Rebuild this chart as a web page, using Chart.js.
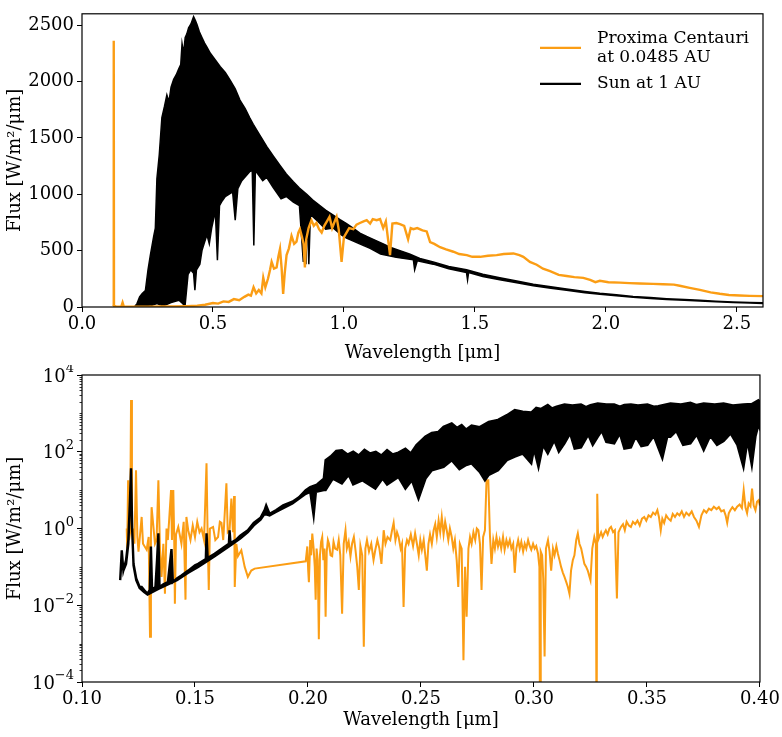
<!DOCTYPE html>
<html lang="en">
<head>
<meta charset="UTF-8">
<title>Proxima Centauri vs Sun</title>
<script src="https://cdn.jsdelivr.net/npm/chart.js@4.4.1/dist/chart.umd.min.js"></script>
<style>
  *{margin:0;padding:0;box-sizing:border-box}
  body{background:#fff;width:782px;height:737px;position:relative;overflow:hidden}
  canvas{position:absolute;left:0}
  #topChart{top:0}
  #botChart{top:365px}
</style>
</head>
<body>
<canvas id="topChart" width="782" height="365"></canvas>
<canvas id="botChart" width="782" height="372"></canvas>
<script>
/****************  DATA  ****************/
// --- top panel: full range, linear flux ---
const proxWlTop=[0.118,0.1205,0.1212,0.1222,0.130,0.150,0.155,0.160,0.200,0.250,
  0.300,0.350,0.400,0.440,0.470,0.500,0.520,0.540,0.560,0.580,
  0.600,0.620,0.635,0.645,0.655,0.665,0.675,0.685,0.692,0.700,
  0.710,0.718,0.724,0.733,0.743,0.750,0.756,0.762,0.768,0.774,
  0.781,0.790,0.800,0.810,0.819,0.826,0.832,0.840,0.846,0.851,
  0.856,0.865,0.876,0.885,0.895,0.905,0.915,0.925,0.935,0.945,
  0.955,0.965,0.972,0.980,0.991,1.000,1.010,1.020,1.036,1.048,
  1.061,1.075,1.087,1.100,1.110,1.125,1.138,1.150,1.160,1.176,
  1.185,1.200,1.214,1.230,1.245,1.255,1.265,1.280,1.300,1.316,
  1.329,1.345,1.367,1.390,1.418,1.440,1.469,1.490,1.520,1.550,
  1.583,1.610,1.647,1.670,1.685,1.710,1.736,1.760,1.787,1.820,
  1.850,1.880,1.914,1.940,1.960,1.977,2.010,2.054,2.090,2.130,
  2.180,2.219,2.260,2.282,2.320,2.359,2.400,2.435,2.470,2.511,
  2.550,2.600];
const proxFluxTop=[5,10,2360,10,5,3,40,2,2,3,
  4,5,8,12,20,35,30,50,45,70,
  60,90,110,100,175,120,150,120,260,175,
  250,330,400,340,350,450,515,350,117,300,
  460,520,630,560,580,660,690,620,560,350,
  600,700,770,720,745,690,660,720,760,800,
  700,760,800,690,400,620,660,700,690,730,
  745,760,770,740,780,770,780,700,760,460,
  740,745,735,720,600,700,690,700,680,670,
  575,560,530,510,490,470,460,445,445,455,
  460,470,475,460,445,400,375,340,318,285,
  275,265,258,240,220,232,220,216,212,208,
  205,202,198,188,170,152,130,117,106,102,
  99,96];

// Sun: upper and lower envelope of the dense spectrum
const sunHiWlTop=[0.200,0.210,0.220,0.230,0.242,0.252,0.261,0.274,0.280,0.286,
  0.295,0.305,0.315,0.324,0.332,0.340,0.350,0.360,0.369,0.377,
  0.382,0.388,0.394,0.400,0.407,0.416,0.426,0.433,0.439,0.448,
  0.458,0.468,0.477,0.490,0.509,0.528,0.547,0.566,0.585,0.603,
  0.623,0.640,0.654,0.680,0.705,0.730,0.756,0.780,0.807,0.830,
  0.858,0.880,0.908,0.930,0.959,0.985,1.010,1.035,1.061,1.087,
  1.112,1.150,1.176,1.214,1.250,1.290,1.341,1.400,1.468,1.530,
  1.595,1.660,1.723,1.790,1.850,1.920,1.977,2.040,2.104,2.170,
  2.232,2.300,2.359,2.420,2.486,2.550,2.600];
const sunHiTop=[0,30,90,120,145,330,460,630,700,1140,
  1350,1680,1780,1880,1820,1950,2020,2060,2110,2150,
  2335,2250,2390,2420,2475,2510,2575,2540,2505,2440,
  2390,2340,2305,2250,2190,2130,2080,2010,1935,1835,
  1760,1680,1620,1520,1425,1340,1255,1180,1110,1055,
  1000,950,900,860,815,775,740,700,655,625,
  600,560,530,500,470,430,400,360,330,290,
  259,230,202,180,160,138,122,108,94,84,
  74,66,60,52,45,40,37];
const sunLoWlTop=[0.200,0.230,0.262,0.286,0.310,0.340,0.370,0.385,0.393,0.398,
  0.405,0.415,0.426,0.431,0.437,0.450,0.458,0.466,0.477,0.486,
  0.495,0.509,0.517,0.525,0.535,0.547,0.562,0.575,0.585,0.595,
  0.610,0.625,0.640,0.650,0.656,0.662,0.690,0.705,0.730,0.760,
  0.780,0.807,0.830,0.845,0.850,0.855,0.860,0.866,0.872,0.900,
  0.930,0.960,0.990,1.010,1.060,1.100,1.140,1.200,1.265,1.270,
  1.280,1.341,1.400,1.468,1.472,1.476,1.530,1.595,1.660,1.723,
  1.790,1.850,1.920,1.977,2.040,2.104,2.170,2.232,2.300,2.359,
  2.420,2.486,2.550,2.600];
const sunLoTop=[0,0,10,30,10,40,60,30,0,120,
  290,330,300,150,330,380,500,560,640,560,
  700,850,415,900,940,980,1000,1020,770,1050,
  1120,1160,1200,1210,545,1210,1120,1150,1060,960,
  980,930,900,400,860,380,840,380,820,760,
  690,700,640,610,560,520,470,440,420,330,
  410,380,340,305,240,305,270,242,215,188,
  167,148,127,112,99,86,76,67,59,54,
  47,40,35,32];

// --- bottom panel: UV zoom, log flux ---
const proxWlUv=[0.1198,0.1200,0.1204,0.1208,0.1213,0.1217,0.1221,0.1228,0.1232,0.1239,
  0.1245,0.1250,0.1264,0.1270,0.1286,0.1295,0.1301,0.1305,0.1308,0.1323,
  0.1330,0.1338,0.1345,0.1352,0.1360,0.1367,0.1374,0.1380,0.1394,0.1398,
  0.1404,0.1408,0.1411,0.1416,0.1426,0.1440,0.1450,0.1458,0.1462,0.1470,
  0.1480,0.1490,0.1500,0.1510,0.1520,0.1529,0.1540,0.1551,0.1556,0.1561,
  0.1566,0.1580,0.1590,0.1602,0.1610,0.1617,0.1625,0.1639,0.1645,0.1653,
  0.1661,0.1668,0.1673,0.1676,0.1683,0.1690,0.1705,0.1720,0.1734,0.1749,0.1764,
  0.1990,0.1997,0.2001,0.2004,0.2010,0.2014,0.2019,0.2025,0.2030,0.2034,
  0.2038,0.2043,0.2048,0.2053,0.2058,0.2063,0.2068,0.2073,0.2078,0.2083,
  0.2088,0.2093,0.2100,0.2107,0.2113,0.2120,0.2129,0.2136,0.2143,0.2151,
  0.2158,0.2166,0.2172,0.2180,0.2188,0.2195,0.2203,0.2210,0.2218,0.2225,
  0.2232,0.2240,0.2247,0.2254,0.2261,0.2270,0.2280,0.2290,0.2298,0.2307,
  0.2316,0.2325,0.2335,0.2343,0.2352,0.2364,0.2372,0.2379,0.2387,0.2394,
  0.2401,0.2410,0.2416,0.2423,0.2430,0.2438,0.2445,0.2455,0.2465,0.2474,
  0.2482,0.2490,0.2497,0.2504,0.2512,0.2519,0.2526,0.2533,0.2540,0.2548,
  0.2556,0.2563,0.2570,0.2578,0.2585,0.2592,0.2600,0.2607,0.2614,0.2621,
  0.2628,0.2636,0.2643,0.2650,0.2658,0.2665,0.2672,0.2680,0.2688,0.2695,
  0.2702,0.2710,0.2717,0.2724,0.2732,0.2740,0.2747,0.2754,0.2761,0.2768,
  0.2775,0.2783,0.2790,0.2798,0.2805,0.2812,0.2820,0.2827,0.2834,0.2841,
  0.2848,0.2855,0.2863,0.2870,0.2878,0.2885,0.2893,0.2900,0.2908,0.2915,
  0.2922,0.2930,0.2937,0.2944,0.2952,0.2959,0.2966,0.2974,0.2981,0.2988,
  0.2996,0.3003,0.3010,0.3018,0.3024,0.3027,0.3030,0.3036,0.3041,0.3047,
  0.3053,0.3062,0.3069,0.3076,0.3084,0.3091,0.3099,0.3106,0.3113,0.3120,
  0.3128,0.3135,0.3143,0.3150,0.3157,0.3164,0.3172,0.3179,0.3187,0.3194,
  0.3201,0.3209,0.3216,0.3223,0.3231,0.3238,0.3244,0.3250,0.3258,0.3267,
  0.3274,0.3277,0.3280,0.3284,0.3289,0.3297,0.3304,0.3311,0.3318,0.3326,
  0.3334,0.3341,0.3350,0.3358,0.3367,0.3374,0.3385,0.3394,0.3402,0.3410,
  0.3420,0.3429,0.3438,0.3448,0.3458,0.3468,0.3478,0.3488,0.3497,0.3507,
  0.3517,0.3527,0.3537,0.3546,0.3553,0.3561,0.3568,0.3576,0.3585,0.3595,
  0.3605,0.3614,0.3624,0.3634,0.3644,0.3654,0.3664,0.3674,0.3686,0.3698,
  0.3708,0.3719,0.3730,0.3741,0.3752,0.3763,0.3774,0.3785,0.3796,0.3808,
  0.3818,0.3829,0.3840,0.3848,0.3855,0.3862,0.3869,0.3878,0.3889,0.3899,
  0.3910,0.3920,0.3928,0.3936,0.3943,0.3950,0.3958,0.3965,0.3972,0.3980,
  0.3987,0.3994,0.4000];
const proxFluxUv=[1.0,0.3,18,0.5,0.8,2240,1.0,0.9,0.4,33,
  0.6,0.25,2.0,0.4,0.28,0.6,0.0015,0.6,3.6,0.4,
  0.5,18,0.3,0.055,0.4,0.02,1.0,0.5,10,0.5,
  10,0.6,0.011,0.7,1.1,0.4,1.5,0.014,2.0,0.9,
  0.5,1.2,0.6,1.5,0.8,1.0,0.5,50,0.6,0.025,
  1.0,1.1,0.5,0.6,1.5,1.4,0.5,15,0.8,0.9,
  6.0,0.8,7,0.03,0.4,0.19,0.27,0.1,0.055,0.08,0.09,
  0.14,0.34,0.08,0.04,0.5,0.2,0.74,0.3,0.1,0.014,
  0.3,0.15,0.0013,0.2,0.45,0.6,0.15,0.3,0.005,0.25,
  0.5,0.4,0.2,0.19,0.45,0.3,0.28,0.5,0.2,0.006,
  0.4,0.9,0.3,0.45,0.19,0.4,0.6,0.28,0.1,0.025,
  0.35,0.2,0.00083,0.3,0.5,0.25,0.4,0.15,0.28,0.5,
  0.3,0.12,0.9,0.4,0.6,0.5,0.9,1.4,0.5,0.8,
  0.6,0.3,0.4,0.009,0.3,0.5,0.4,0.7,0.35,0.75,
  0.4,0.2,0.5,0.28,0.5,0.2,0.08,0.4,0.7,0.4,
  0.9,1.3,0.6,1.6,0.8,2.0,0.7,1.5,0.9,0.5,
  1.0,0.6,0.3,0.5,0.15,0.03,0.4,0.3,0.00037,0.1,
  0.005,0.3,0.6,0.4,0.8,0.5,1.0,0.9,0.4,0.025,
  0.6,0.9,18,18,0.7,0.12,0.5,0.3,0.6,0.34,
  0.5,0.3,0.6,0.28,0.5,0.35,0.5,0.3,0.4,0.07,
  0.3,0.5,0.3,0.45,0.25,0.4,0.3,0.5,0.35,0.28,
  0.4,0.3,0.35,0.22,0.1,1e-6,0.25,0.2,0.05,0.00046,
  0.3,0.5,0.25,0.08,0.3,0.2,0.35,0.22,0.15,0.1,
  0.07,0.055,0.04,0.03,0.02,0.08,0.15,0.2,0.5,0.74,
  0.4,0.3,0.19,0.12,0.1,0.08,0.06,0.045,0.3,0.6,
  0.4,1e-6,8,0.5,0.6,0.8,0.6,0.75,0.9,0.7,
  1.0,1.1,0.8,0.9,0.015,0.8,1.1,1.3,0.9,1.5,
  1.2,1.1,1.5,1.3,1.6,1.2,1.8,2.0,1.6,2.2,
  2.0,2.6,2.3,3.0,2.0,0.9,1.8,1.4,2.2,1.8,
  1.6,2.4,2.0,2.5,2.2,2.8,2.0,2.6,2.2,2.8,
  2.0,1.6,1.1,2.2,3.0,2.6,3.3,3.0,3.7,3.2,
  3.6,2.8,3.0,2.2,1.4,2.5,3.0,3.6,3.0,3.7,
  4.2,3.4,10,3.5,2.5,4.5,3.8,11,4.0,3.0,
  5.0,5.5,4.0];

const sunHiWlUv=[0.1169,0.1176,0.1183,0.1195,0.1205,0.1212,0.1217,0.1222,0.1228,0.1240,
  0.1255,0.1264,0.1275,0.1290,0.1300,0.1305,0.1310,0.1325,0.1332,0.1338,
  0.1343,0.1360,0.1380,0.1396,0.1402,0.1420,0.1440,0.1470,0.1500,0.1514,
  0.1548,0.1551,0.1556,0.1587,0.1620,0.1650,0.1653,0.1657,0.1680,0.1700,
  0.1734,0.1760,0.1790,0.1808,0.1815,0.1830,0.1858,0.1890,0.1931,0.1960,
  0.1990,0.2010,0.2040,0.2070,0.2078,0.2100,0.2125,0.2150,0.2175,0.2200,
  0.2225,0.2250,0.2275,0.2300,0.2325,0.2350,0.2375,0.2400,0.2431,0.2455,
  0.2480,0.2520,0.2548,0.2577,0.2600,0.2636,0.2660,0.2680,0.2700,0.2724,
  0.2760,0.2800,0.2841,0.2880,0.2915,0.2950,0.2988,0.3010,0.3030,0.3061,
  0.3080,0.3100,0.3135,0.3170,0.3208,0.3230,0.3250,0.3282,0.3320,0.3355,
  0.3380,0.3400,0.3429,0.3460,0.3502,0.3530,0.3550,0.3604,0.3650,0.3692,
  0.3720,0.3751,0.3800,0.3839,0.3880,0.3927,0.3964,0.3993,0.4000];
const sunHiUv=[0.045,0.27,0.08,0.15,0.5,5,37,1.0,0.12,0.05,
  0.03,0.03,0.025,0.02,0.025,0.34,0.025,0.03,0.15,0.75,
  0.03,0.035,0.04,0.29,0.04,0.05,0.06,0.08,0.11,0.12,
  0.16,0.75,0.17,0.22,0.3,0.4,0.9,0.42,0.5,0.65,
  0.9,1.4,1.9,3.0,4,2.4,3.0,4.0,5.0,6.5,
  10,12,14,20,60,75,105,110,85,100,
  80,112,90,100,80,110,85,95,120,90,
  150,250,310,330,450,550,420,500,380,480,
  440,600,680,900,1230,1100,1050,1400,1300,1650,
  1350,1500,1700,1600,1700,1450,1650,1800,1700,1700,
  1500,1650,1700,1600,1700,1500,1550,1800,1700,1900,
  1650,1800,1700,1800,1600,1700,1750,2200,2000];
const sunLoWlUv=[0.1169,0.1176,0.1183,0.1195,0.1205,0.1212,0.1217,0.1222,0.1228,0.1240,
  0.1255,0.1275,0.1290,0.1310,0.1340,0.1380,0.1420,0.1470,0.1514,0.1587,
  0.1650,0.1700,0.1734,0.1760,0.1790,0.1808,0.1830,0.1858,0.1931,0.1990,
  0.2010,0.2025,0.2035,0.2070,0.2078,0.2110,0.2150,0.2180,0.2200,0.2240,
  0.2298,0.2330,0.2350,0.2400,0.2431,0.2460,0.2489,0.2520,0.2548,0.2600,
  0.2636,0.2670,0.2700,0.2724,0.2760,0.2783,0.2800,0.2841,0.2880,0.2915,
  0.2950,0.2988,0.3000,0.3020,0.3040,0.3061,0.3090,0.3110,0.3135,0.3160,
  0.3180,0.3208,0.3240,0.3260,0.3282,0.3300,0.3320,0.3355,0.3380,0.3400,
  0.3429,0.3450,0.3475,0.3502,0.3530,0.3568,0.3590,0.3604,0.3630,0.3660,
  0.3692,0.3720,0.3751,0.3780,0.3810,0.3839,0.3870,0.3900,0.3927,0.3945,
  0.3964,0.3980,0.3993,0.4000];
const sunLoUv=[0.045,0.2,0.08,0.12,0.4,4,30,0.9,0.11,0.045,
  0.028,0.022,0.019,0.022,0.027,0.035,0.045,0.07,0.1,0.19,
  0.34,0.55,0.8,1.2,1.7,2.4,2.2,2.7,4.5,8,
  9,2.2,9,10,10,20,15,25,14,18,
  11,20,14,22,11,18,6,20,33,40,
  60,35,45,50,30,18,25,33,60,75,
  90,50,120,40,150,90,200,100,165,300,
  120,130,280,150,245,350,180,165,300,120,
  130,250,140,150,260,68,250,245,350,150,
  165,280,110,260,150,190,300,150,40,200,
  45,250,500,400];

// tick values
const topXTicks=[0,0.5,1.0,1.5,2.0,2.5];
const topYTicks=[0,500,1000,1500,2000,2500];
const botXTicks=[0.10,0.15,0.20,0.25,0.30,0.35,0.40];
const botYTicks=[1e-4,1e-2,1,1e2,1e4];

const legendLabels=[['Proxima Centauri','at 0.0485 AU'],['Sun at 1 AU']];

/****************  STYLE  ****************/
const ORANGE='#fb9d14';
const FONT='DejaVu Serif';
const tickFont={family:FONT,size:18};
const titleFont={family:FONT,size:18};

function pts(xs,ys){return xs.map((x,i)=>({x:x,y:ys[i]}));}
// closed outline: upper envelope left->right, lower envelope right->left
function band(hx,hy,lx,ly){return pts(hx,hy).concat(pts(lx,ly).reverse());}

const lineBase={pointRadius:0,tension:0,clip:0};

/****************  PLUGINS  ****************/
// full box round the plot area (matplotlib spines)
const framePlugin={
  id:'frame',
  afterDatasetsDraw(chart){
    const {ctx,chartArea:a}=chart;
    ctx.save();
    ctx.strokeStyle='#000';ctx.lineWidth=1.2;
    ctx.strokeRect(a.left,a.top,a.right-a.left,a.bottom-a.top);
    ctx.restore();
  }
};

// two-line legend in the top panel
const legendPlugin={
  id:'twoLineLegend',
  afterDraw(chart){
    const {ctx,chartArea:a}=chart;
    const x0=a.right-223,x1=a.right-182,tx=a.right-166;
    const rows=[{color:ORANGE,lineY:a.top+34,textY:[a.top+25,a.top+44]},
                {color:'#000',lineY:a.top+70,textY:[a.top+70]}];
    ctx.save();
    ctx.font='17px "'+FONT+'"';ctx.fillStyle='#000';
    ctx.textAlign='left';ctx.textBaseline='middle';
    rows.forEach((r,i)=>{
      ctx.strokeStyle=r.color;ctx.lineWidth=2.2;
      ctx.beginPath();ctx.moveTo(x0,r.lineY);ctx.lineTo(x1,r.lineY);ctx.stroke();
      legendLabels[i].forEach((t,j)=>ctx.fillText(t,tx,r.textY[j]));
    });
    ctx.restore();
  }
};

// log axis: superscript labels + minor ticks
const logAxisPlugin={
  id:'logAxis',
  afterDraw(chart){
    const {ctx}=chart;const s=chart.scales.y;
    ctx.save();
    ctx.strokeStyle='#000';ctx.lineWidth=0.8;
    const minor=(v)=>{
      const y=Math.round(s.getPixelForValue(v))+0.5;
      ctx.beginPath();ctx.moveTo(s.right-2.5,y);ctx.lineTo(s.right,y);ctx.stroke();
    };
    for(let e=-4;e<4;e++){
      for(let m=2;m<=9;m++) minor(m*Math.pow(10,e));
      if(e%2!==0) minor(Math.pow(10,e));
    }
    ctx.fillStyle='#000';ctx.textBaseline='middle';ctx.textAlign='left';
    botYTicks.forEach(v=>{
      const e=Math.round(Math.log10(v));
      const ex=e<0?'\u2212'+(-e):String(e);
      const y=s.getPixelForValue(v);
      ctx.font='18px "'+FONT+'"';const bw=ctx.measureText('10').width;
      ctx.font='13px "'+FONT+'"';const ew=ctx.measureText(ex).width;
      const xr=s.right-8;
      ctx.font='18px "'+FONT+'"';ctx.fillText('10',xr-ew-bw,y+2);
      ctx.font='13px "'+FONT+'"';ctx.fillText(ex,xr-ew,y-6);
    });
    ctx.restore();
  }
};

function axisGrid(){return {drawOnChartArea:false,drawTicks:true,tickLength:5,color:'#000',tickColor:'#000',lineWidth:1};}

/****************  TOP PANEL  ****************/
new Chart(document.getElementById('topChart'),{
  type:'line',
  data:{datasets:[
    {...lineBase,label:'Proxima Centauri',data:pts(proxWlTop,proxFluxTop),borderColor:ORANGE,borderWidth:2.4,fill:false},
    {...lineBase,label:'Sun at 1 AU',data:band(sunHiWlTop,sunHiTop,sunLoWlTop,sunLoTop),
      borderColor:'#000',backgroundColor:'#000',borderWidth:1.5,fill:'shape'}
  ]},
  options:{
    responsive:false,animation:false,events:[],devicePixelRatio:1,
    layout:{padding:{top:2,right:19,left:0,bottom:0}},
    plugins:{legend:{display:false},tooltip:{enabled:false}},
    scales:{
      x:{type:'linear',min:0,max:2.6,
        afterBuildTicks:s=>{s.ticks=topXTicks.map(v=>({value:v}));},
        afterFit:s=>{s.height=58;},
        ticks:{font:tickFont,color:'#000',padding:2,maxRotation:0,callback:v=>v.toFixed(1)},
        grid:axisGrid(),border:{display:false},
        title:{display:true,text:'Wavelength [\u03bcm]',font:titleFont,color:'#000',padding:{top:0,bottom:1}}},
      y:{type:'linear',min:0,max:2600,
        afterBuildTicks:s=>{s.ticks=topYTicks.map(v=>({value:v}));},
        afterFit:s=>{s.width=82;},
        ticks:{font:tickFont,color:'#000',padding:3,callback:v=>String(v)},
        grid:axisGrid(),border:{display:false},
        title:{display:true,text:'Flux [W/m\u00b2/\u03bcm]',font:titleFont,color:'#000',padding:{top:5,bottom:0}}}
    }
  },
  plugins:[framePlugin,legendPlugin]
});

/****************  BOTTOM PANEL  ****************/
new Chart(document.getElementById('botChart'),{
  type:'line',
  data:{datasets:[
    {...lineBase,label:'Sun at 1 AU',data:band(sunHiWlUv,sunHiUv,sunLoWlUv,sunLoUv),
      borderColor:'#000',backgroundColor:'#000',borderWidth:2.4,fill:'shape'},
    {...lineBase,label:'Proxima Centauri',data:pts(proxWlUv,proxFluxUv),borderColor:ORANGE,borderWidth:2,fill:false}
  ]},
  options:{
    responsive:false,animation:false,events:[],devicePixelRatio:1,
    layout:{padding:{top:10,right:19,left:0,bottom:0}},
    plugins:{legend:{display:false},tooltip:{enabled:false}},
    scales:{
      x:{type:'linear',min:0.10,max:0.40,
        afterBuildTicks:s=>{s.ticks=botXTicks.map(v=>({value:v}));},
        afterFit:s=>{s.height=55;},
        ticks:{font:tickFont,color:'#000',padding:2,maxRotation:0,callback:v=>v.toFixed(2)},
        grid:axisGrid(),border:{display:false},
        title:{display:true,text:'Wavelength [\u03bcm]',font:titleFont,color:'#000',padding:{top:0,bottom:6}}},
      y:{type:'logarithmic',min:1e-4,max:1e4,
        afterBuildTicks:s=>{s.ticks=botYTicks.map(v=>({value:v}));},
        afterFit:s=>{s.width=82;},
        ticks:{display:false},
        grid:axisGrid(),border:{display:false},
        title:{display:true,text:'Flux [W/m\u00b2/\u03bcm]',font:titleFont,color:'#000',padding:{top:5,bottom:0}}}
    }
  },
  plugins:[framePlugin,logAxisPlugin]
});
</script>
</body>
</html>
